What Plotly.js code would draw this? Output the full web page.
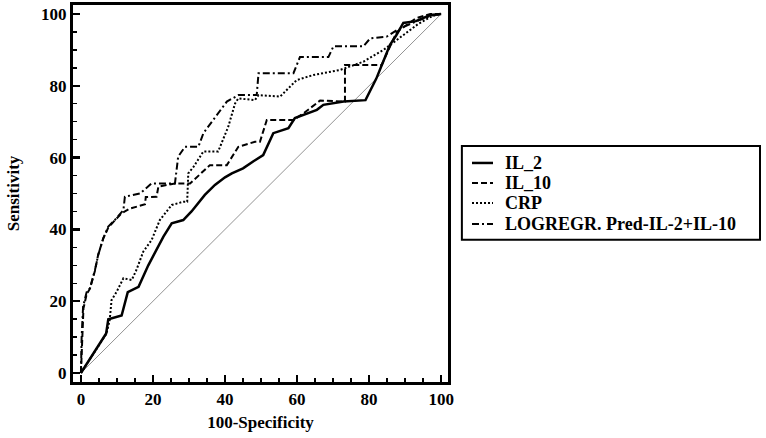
<!DOCTYPE html>
<html>
<head>
<meta charset="utf-8">
<script src="https://cdn.plot.ly/plotly-3.0.1.min.js"></script>
<style>html,body{margin:0;padding:0;background:#fff;}#chart{width:766px;height:438px;}</style>
</head>
<body>
<div id="chart"></div>
<script>
// Series names
const seriesNames = ["IL_2", "IL_10", "CRP", "LOGREGR. Pred-IL-2+IL-10"];

// IL_2 ROC curve (100-Specificity, Sensitivity)
const il2X = [0, 7, 7.6, 11.3, 13, 16, 18.7, 22.9, 25.2, 28.4, 30.7, 32.6, 34.4, 37.2, 40, 41.9, 45, 47.9, 50.6, 53.4, 57.6, 59.4, 62, 65.5, 67.3, 72.9, 79, 82, 83.9, 85.8, 87.5, 89.5, 93, 97, 100];
const il2Y = [0, 11, 15, 16, 22.5, 24, 30, 38, 41.7, 42.6, 45, 47.5, 49.6, 52.4, 54.5, 55.6, 57, 59, 60.7, 66.8, 68.2, 71, 72, 73.3, 74.7, 75.6, 76, 82, 86.7, 91.4, 94, 97.5, 98, 99.7, 100];

// IL_10 ROC curve
const il10X = [0, 0.3, 0.7, 1.6, 2.5, 3.9, 4.8, 6.2, 7.6, 9.4, 11.3, 13.6, 16, 17.8, 18, 21, 21.5, 26.1, 30.3, 33, 35.8, 40.5, 43.7, 48.3, 49.7, 51.6, 59, 62, 64.5, 66.4, 73.3, 73.3, 83.5, 84, 87.7, 93, 97, 100];
const il10Y = [0, 10, 18, 22, 23.5, 28.5, 33, 37.5, 40.5, 42.5, 44.5, 45.8, 46.5, 47, 49, 49.1, 51.9, 52.8, 52.8, 55.2, 57.9, 57.9, 63, 64.4, 64.4, 70.5, 70.5, 72.5, 74.5, 75.9, 75.6, 85.8, 85.8, 87, 95, 98.8, 100, 100];

// CRP ROC curve
const crpX = [0, 7.1, 8, 8.5, 9.9, 11.8, 14.1, 15.4, 17.3, 19.6, 21.9, 25.2, 28.4, 29.5, 29.8, 31.3, 34, 38.1, 40.9, 42.8, 43.7, 48.3, 49.3, 55.3, 59.9, 64.5, 71.9, 78.4, 84, 89.5, 93.6, 97.7, 100];
const crpY = [0, 11, 14.8, 20.3, 22.6, 26.4, 25.9, 28.7, 33.8, 37, 42.6, 46.8, 47.7, 47.7, 55.6, 57.5, 61.7, 61.7, 68.6, 75.1, 76.5, 76, 77.4, 77, 81.6, 83, 84.4, 86.7, 90, 94.2, 97.2, 99.5, 100];

// LOGREGR combined predictor ROC curve
const lrX = [0, 0.2, 0.6, 1.6, 2.5, 3.9, 4.8, 6.2, 7.6, 9.4, 11.8, 12.2, 16.4, 19.6, 26.1, 27, 28.9, 32.6, 34, 37.2, 40.5, 43.7, 48.8, 49.3, 59, 60.8, 68.7, 70.1, 78.4, 80.3, 84.9, 87.7, 92, 97, 99.7, 100];
const lrY = [0, 10, 18.5, 22.6, 23.6, 28.7, 32.9, 37.5, 40.8, 42.6, 45.4, 49.1, 50, 52.8, 52.8, 60.3, 63, 63, 66.8, 71, 75.6, 77.4, 77.4, 83.5, 83.5, 88, 88, 91, 91, 93.2, 93.7, 95.5, 97.5, 99.5, 100, 100];

// Reference diagonal
const diagX = [0, 100];
const diagY = [0, 100];

// Axis ticks
const tickVals = [0, 20, 40, 60, 80, 100];
const tickText = ["0", "20", "40", "60", "80", "100"];

const FAMILY = "'Times New Roman', 'Liberation Serif', 'DejaVu Serif', serif";
const font = {family: FAMILY, size: 17, color: "#000", weight: 700};
const legendFont = {family: FAMILY, size: 18, color: "#000", weight: 700};

const styles = [
  {color: "#000", width: 2.5, dash: "solid"},
  {color: "#000", width: 2, dash: "6px,3px"},
  {color: "#000", width: 2, dash: "2px,2px"},
  {color: "#000", width: 2, dash: "7px,3px,2px,3px"}
];
const seriesX = [il2X, il10X, crpX, lrX];
const seriesY = [il2Y, il10Y, crpY, lrY];

const traces = [
  {x: diagX, y: diagY, mode: "lines", line: {color: "#777", width: 0.8}, showlegend: false, hoverinfo: "skip"}
];
seriesNames.forEach((n, i) => traces.push({x: seriesX[i], y: seriesY[i], name: n, mode: "lines", line: styles[i], showlegend: false}));

// Hand-built legend box (paper coordinates)
const legBox = {x0: 1.037, x1: 1.832, y0: 0.377, y1: 0.626};
const legRows = [0.581, 0.528, 0.475, 0.419];
const shapes = [
  {type: "rect", xref: "paper", yref: "paper", x0: legBox.x0, x1: legBox.x1, y0: legBox.y0, y1: legBox.y1,
   line: {color: "#000", width: 2}, fillcolor: "#fff", layer: "above"}
];
const annotations = [];
seriesNames.forEach((n, i) => {
  shapes.push({type: "line", xref: "paper", yref: "paper", x0: 1.064, x1: 1.12, y0: legRows[i], y1: legRows[i],
               line: styles[i], layer: "above"});
  annotations.push({xref: "paper", yref: "paper", x: 1.146, y: legRows[i], xanchor: "left", yanchor: "middle",
                    text: n, showarrow: false, font: legendFont});
});

const axisCommon = {
  showgrid: false, zeroline: false, showline: true, linecolor: "#000", linewidth: 3, mirror: true,
  ticks: "inside", ticklen: 7, tickwidth: 2.5, tickcolor: "#000",
  tickvals: tickVals, ticktext: tickText, tickfont: font,
  minor: {dtick: 5, ticks: "inside", ticklen: 4, tickwidth: 1.5, tickcolor: "#000", showgrid: false}
};

const layout = {
  width: 766, height: 438,
  margin: {l: 73, r: 318, t: 5, b: 56},
  paper_bgcolor: "#fff", plot_bgcolor: "#fff",
  font: font,
  xaxis: Object.assign({}, axisCommon, {range: [-2.2, 101.9], title: {text: "100-Specificity", font: font, standoff: 8}}),
  yaxis: Object.assign({}, axisCommon, {range: [-2.5, 102.5], title: {text: "Sensitivity", font: font, standoff: 18}}),
  showlegend: false,
  shapes: shapes,
  annotations: annotations
};

Plotly.newPlot("chart", traces, layout, {displayModeBar: false, staticPlot: true});
</script>
</body>
</html>
